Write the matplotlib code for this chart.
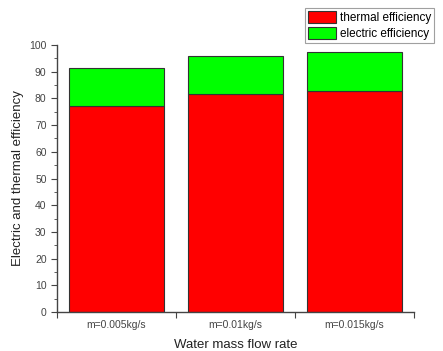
import matplotlib
matplotlib.use("Agg")
import matplotlib.pyplot as plt
from matplotlib.ticker import MultipleLocator

plt.rcParams["font.family"] = ["Liberation Sans", "DejaVu Sans"]

categories = ["m=0.005kg/s", "m=0.01kg/s", "m=0.015kg/s"]
thermal = [77.0, 81.7, 82.8]
electric = [14.3, 14.3, 14.5]

fig = plt.figure(figsize=(4.43, 3.51), dpi=100)
ax = fig.add_axes([0.1287, 0.1111, 0.8058, 0.7607])

pos = [i + 0.5 for i in range(len(categories))]
ax.bar(pos, thermal, width=0.8, color="#ff0000", edgecolor="#333333", linewidth=0.8,
       label="thermal efficiency")
ax.bar(pos, electric, width=0.8, bottom=thermal, color="#00ff00", edgecolor="#333333",
       linewidth=0.8, label="electric efficiency")

ax.set_xlim(0, 3)
ax.set_ylim(0, 100)
ax.set_xticks([0, 1, 2, 3])
ax.set_xticklabels([])
ax.set_xticks(pos, minor=True)
ax.set_xticklabels(categories, minor=True, fontsize=7.5, color="#444444")
ax.tick_params(axis="x", which="minor", length=0, pad=6)
ax.tick_params(axis="x", which="major", length=4, direction="out", color="#444444")

ax.yaxis.set_major_locator(MultipleLocator(10))
ax.yaxis.set_minor_locator(MultipleLocator(5))
ax.tick_params(axis="y", which="major", length=4, direction="out", labelsize=7.5,
               labelcolor="#444444", color="#444444")
ax.tick_params(axis="y", which="minor", length=2, direction="out", color="#444444")

for s in ["top", "right"]:
    ax.spines[s].set_visible(False)
for s in ["left", "bottom"]:
    ax.spines[s].set_color("#444444")
    ax.spines[s].set_linewidth(1.0)

ax.set_xlabel("Water mass flow rate", fontsize=9.5, color="#222222", labelpad=6)
ax.set_ylabel("Electric and thermal efficiency", fontsize=9.5, color="#222222")

leg = fig.legend(loc="upper left", bbox_to_anchor=(0.688, 0.977), fontsize=8.5,
                 frameon=True, fancybox=False, edgecolor="#888888",
                 handlelength=2.4, handleheight=1.2, borderpad=0.25,
                 labelspacing=0.25, handletextpad=0.3, borderaxespad=0)
leg.get_frame().set_linewidth(0.8)

fig.savefig("out.png", dpi=100)
